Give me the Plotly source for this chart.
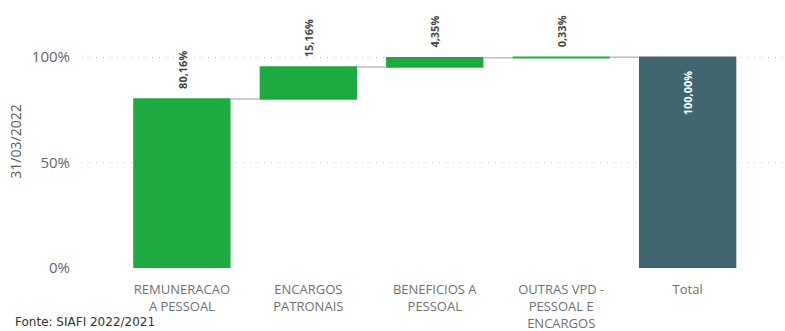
from itertools import accumulate
import plotly.graph_objects as go

categories = ["REMUNERACAO<br>A PESSOAL", "ENCARGOS<br>PATRONAIS", "BENEFICIOS A<br>PESSOAL",
              "OUTRAS VPD -<br>PESSOAL E<br>ENCARGOS", "Total"]
shares = [80.16, 15.16, 4.35, 0.33, 100.00]
measures = ["relative", "relative", "relative", "relative", "total"]
y_ticks = [0, 50, 100]
y_tick_labels = ["0%", "50%", "100%"]

GREEN = "#1dab41"
SLATE = "#41666f"


def pt(v):
    return f"{v:.2f}%".replace(".", ",")


fig = go.Figure(go.Waterfall(
    x=categories,
    y=shares,
    measure=measures,
    increasing=dict(marker=dict(color=GREEN)),
    decreasing=dict(marker=dict(color=GREEN)),
    totals=dict(marker=dict(color=SLATE)),
    connector=dict(line=dict(color="#bdbdbd", width=1.5), mode="between"),
    width=0.77,
    hoverinfo="skip",
))

# value labels: rotated, above each step and inside the top of the total bar
tops = list(accumulate(shares[:-1])) + [shares[-1]]
annotations = []
for cat, v, top, m in zip(categories, shares, tops, measures):
    if m == "total":
        annotations.append(dict(
            x=cat, y=top, xref="x", yref="y", text=pt(v), textangle=-90,
            showarrow=False, xanchor="center", yanchor="top", yshift=-11,
            font=dict(family="Open Sans", size=11, color="#ffffff", weight="bold"),
        ))
    else:
        annotations.append(dict(
            x=cat, y=top, xref="x", yref="y", text=pt(v), textangle=-90,
            showarrow=False, xanchor="center", yanchor="bottom", yshift=8,
            font=dict(family="Open Sans", size=11, color="#444444", weight="bold"),
        ))

annotations.append(dict(
    text="Fonte: SIAFI 2022/2021", xref="paper", yref="paper",
    x=-69 / 703, y=-63 / 253, xanchor="left", yanchor="bottom",
    showarrow=False, font=dict(family="DejaVu Sans", size=12, color="#333333"),
))

fig.update_layout(
    width=785, height=331,
    margin=dict(l=82, r=0, t=15, b=63),
    paper_bgcolor="white", plot_bgcolor="white",
    showlegend=False,
    font=dict(family="Open Sans", color="#666666"),
    xaxis=dict(
        range=[-0.79, 4.77],
        showgrid=False, zeroline=False, showline=False,
        tickfont=dict(size=13, color="#707070"),
        ticks="", ticklabelstandoff=12,
    ),
    yaxis=dict(
        range=[0, 120],
        tickvals=y_ticks, ticktext=y_tick_labels,
        tickfont=dict(size=15, color="#666666"),
        showgrid=True, gridcolor="#c4c4c4", griddash="1px,6px", gridwidth=1,
        zeroline=False, showline=False,
        ticks="", ticklabelstandoff=11,
        title=dict(text="31/03/2022", font=dict(size=14, color="#555555"), standoff=6),
    ),
    annotations=annotations,
)

fig.write_html("out.html")
